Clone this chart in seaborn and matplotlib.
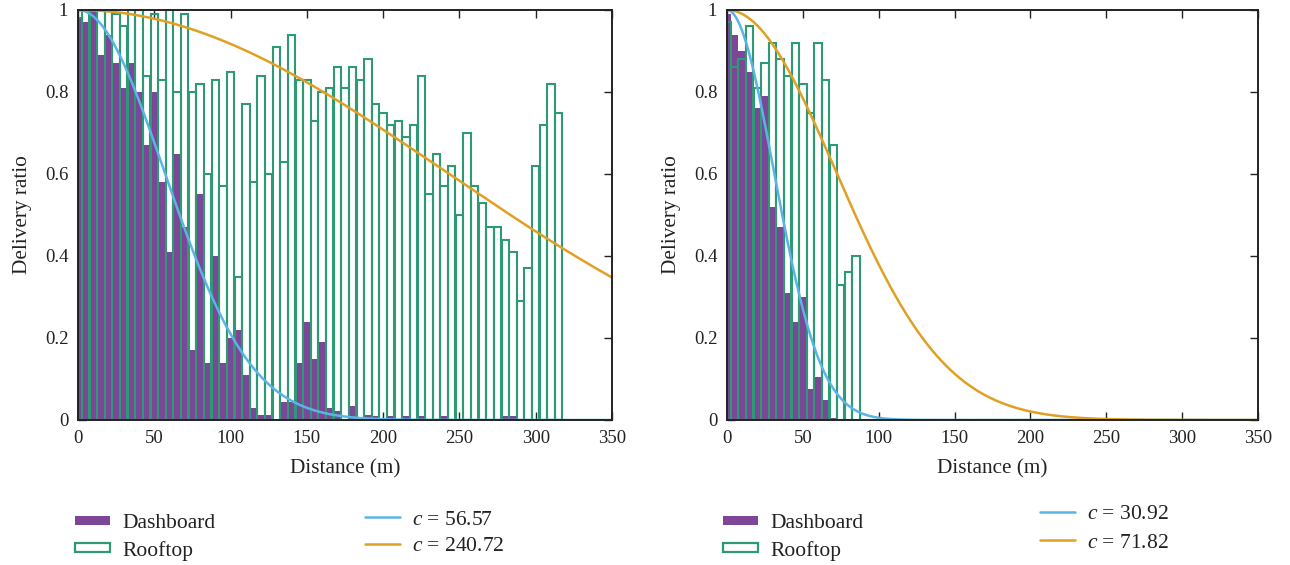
import numpy as np
import pandas as pd
import matplotlib
matplotlib.use("Agg")
import matplotlib.pyplot as plt
from matplotlib.patches import Patch
from matplotlib.lines import Line2D
import seaborn as sns

# ---------------- data ----------------
# delivery ratio per 5 m distance bin (bin centres in metres)
left_rooftop_dist = list(range(0, 320, 5))
left_rooftop = [0.98, 1.00, 1.00, 1.00, 1.00, 0.99, 0.96, 1.00, 1.00, 0.84,
                0.99, 0.83, 1.00, 0.80, 0.99, 0.80, 0.82, 0.60, 0.83, 0.57,
                0.85, 0.35, 0.77, 0.58, 0.84, 0.60, 0.91, 0.63, 0.94, 0.83,
                0.83, 0.73, 0.80, 0.81, 0.86, 0.81, 0.86, 0.83, 0.88, 0.77,
                0.75, 0.72, 0.73, 0.69, 0.72, 0.84, 0.55, 0.65, 0.57, 0.62,
                0.50, 0.70, 0.57, 0.53, 0.47, 0.47, 0.44, 0.41, 0.29, 0.37,
                0.62, 0.72, 0.82, 0.75]
left_dashboard_dist = list(range(0, 290, 5))
left_dashboard = [0.98, 0.97, 1.00, 0.89, 0.94, 0.87, 0.81, 0.87, 0.80, 0.67,
                  0.80, 0.58, 0.41, 0.65, 0.47, 0.17, 0.55, 0.14, 0.40, 0.14,
                  0.20, 0.22, 0.11, 0.03, 0.012, 0.012, 0.0, 0.043, 0.044, 0.14,
                  0.24, 0.15, 0.19, 0.03, 0.023, 0.0, 0.035, 0.0, 0.012, 0.01,
                  0.0, 0.01, 0.0, 0.01, 0.0, 0.01, 0.0, 0.0, 0.01, 0.0,
                  0.0, 0.0, 0.0, 0.0, 0.0, 0.0, 0.01, 0.01]

right_rooftop_dist = list(range(0, 90, 5))
right_rooftop = [0.97, 0.86, 0.88, 0.96, 0.81, 0.87, 0.92, 0.88, 0.84, 0.92,
                 0.82, 0.75, 0.92, 0.83, 0.67, 0.33, 0.36, 0.40]
right_dashboard_dist = list(range(0, 75, 5))
right_dashboard = [0.99, 0.94, 0.90, 0.85, 0.76, 0.79, 0.52, 0.47, 0.31, 0.24,
                   0.30, 0.075, 0.105, 0.05, 0.005]

# fitted decay parameters  p(d) = exp(-d^2 / (2 c^2))
left_c = [56.57, 240.72]
right_c = [30.92, 71.82]

x_ticks = [0, 50, 100, 150, 200, 250, 300, 350]
y_ticks = [0, 0.2, 0.4, 0.6, 0.8, 1]
y_tick_labels = ["0", "0.2", "0.4", "0.6", "0.8", "1"]

# ---------------- style ----------------
PURPLE = "#7d4698"
GREEN = "#2e9a74"
BLUE = "#5ab4e4"
ORANGE = "#e0a024"

sns.set_style("ticks")
plt.rcParams["font.family"] = ["Liberation Serif", "DejaVu Serif"]
plt.rcParams["mathtext.fontset"] = "custom"
plt.rcParams["mathtext.it"] = "Liberation Serif:italic"
plt.rcParams["mathtext.rm"] = "Liberation Serif"
plt.rcParams["text.color"] = "#222222"
plt.rcParams["axes.labelcolor"] = "#222222"
plt.rcParams["xtick.labelcolor"] = "#222222"
plt.rcParams["ytick.labelcolor"] = "#222222"

W, H = 1290, 565
fig = plt.figure(figsize=(W / 100, H / 100), dpi=100)

def ax_rect(x0, x1, y0, y1):
    return [x0 / W, 1 - y1 / H, (x1 - x0) / W, (y1 - y0) / H]

ax_l = fig.add_axes(ax_rect(78, 612, 10, 420))
ax_r = fig.add_axes(ax_rect(727, 1258, 10, 420))

BIN_W = 5
BIN_RANGE = (-2.5, 317.5)


def draw_panel(ax, dash_d, dash_v, roof_d, roof_v, cs):
    dash = pd.DataFrame({"distance": dash_d, "ratio": dash_v})
    roof = pd.DataFrame({"distance": roof_d, "ratio": roof_v})
    sns.histplot(data=dash, x="distance", weights="ratio",
                 binwidth=BIN_W, binrange=BIN_RANGE,
                 ax=ax, color=PURPLE, alpha=1, fill=True, shrink=1.0,
                 linewidth=0, zorder=2)
    sns.histplot(data=roof, x="distance", weights="ratio",
                 binwidth=BIN_W, binrange=BIN_RANGE,
                 ax=ax, color=GREEN, fill=False, shrink=0.97,
                 linewidth=1.5, zorder=3)
    d = np.linspace(0, 350, 600)
    for c, col in zip(cs, [BLUE, ORANGE]):
        sns.lineplot(x=d, y=np.exp(-d ** 2 / (2 * c ** 2)), ax=ax,
                     color=col, linewidth=1.8, zorder=4)
    ax.set_xlim(0, 350)
    ax.set_ylim(0, 1)
    ax.set_xticks(x_ticks)
    ax.set_yticks(y_ticks)
    ax.set_yticklabels(y_tick_labels)
    ax.tick_params(direction="in", top=True, right=True, length=6,
                   width=1.0, labelsize=13.5, color="#222222")
    ax.tick_params(axis="x", pad=7)
    ax.tick_params(axis="y", pad=7)
    ax.set_xlabel("Distance (m)", fontsize=15.3, labelpad=9)
    ax.set_ylabel("Delivery ratio", fontsize=15.3, labelpad=9)
    for s in ax.spines.values():
        s.set_linewidth(1.4)
        s.set_color("#222222")
        s.set_zorder(5)


draw_panel(ax_l, left_dashboard_dist, left_dashboard,
           left_rooftop_dist, left_rooftop, left_c)
draw_panel(ax_r, right_dashboard_dist, right_dashboard,
           right_rooftop_dist, right_rooftop, right_c)

LEG_FS = 15.5


def bar_legend(x, y):
    handles = [Patch(facecolor=PURPLE, edgecolor=PURPLE, linewidth=0),
               Patch(facecolor="white", edgecolor=GREEN, linewidth=1.6)]
    fig.legend(handles, ["Dashboard", "Rooftop"], loc="center left",
               bbox_to_anchor=(x / W, 1 - y / H), frameon=False,
               fontsize=LEG_FS, handlelength=1.63, handleheight=0.3,
               handletextpad=0.56, labelspacing=0.33, borderpad=0,
               borderaxespad=0)


def line_legend(x, y, cs, spacing):
    handles = [Line2D([], [], color=BLUE, linewidth=1.8),
               Line2D([], [], color=ORANGE, linewidth=1.8)]
    labels = [f"$c$ = {c:.2f}" for c in cs]
    fig.legend(handles, labels, loc="center left",
               bbox_to_anchor=(x / W, 1 - y / H), frameon=False,
               fontsize=LEG_FS, handlelength=1.63, handletextpad=0.56,
               labelspacing=spacing, borderpad=0, borderaxespad=0)


bar_legend(75, 537.5)
line_legend(365, 533, left_c, 0.29)
bar_legend(723, 537.5)
line_legend(1040, 528.5, right_c, 0.39)

fig.savefig("out.png", dpi=100)
